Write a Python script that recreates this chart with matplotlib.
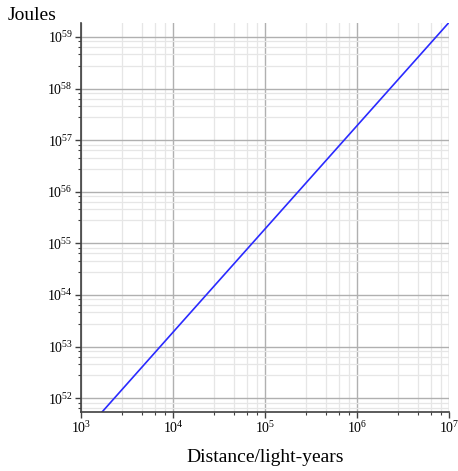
import matplotlib
matplotlib.use('Agg')
import matplotlib.pyplot as plt
from matplotlib.ticker import LogLocator, NullFormatter

# Energy versus distance
distance = [1.66e3, 1e4, 1e5, 1e6, 1e7]
energy = [5.2e51, 1.9e53, 1.9e55, 1.9e57, 1.9e59]

plt.rcParams['font.family'] = ['Liberation Serif', 'DejaVu Serif']
plt.rcParams['mathtext.fontset'] = 'stix'

fig = plt.figure(figsize=(4.58, 4.71), dpi=100)
ax = fig.add_axes([0.177, 0.125, 0.803, 0.826])

ax.plot(distance, energy, color='#2a2aff', lw=1.2)
ax.set_xscale('log')
ax.set_yscale('log')
ax.set_xlim(1e3, 1e7)
ax.set_ylim(10**51.73, 10**59.27)

# minor ticks split each decade linearly into five parts
subs = [2.8, 4.6, 6.4, 8.2]
ax.xaxis.set_major_locator(LogLocator(base=10, numticks=10))
ax.xaxis.set_minor_locator(LogLocator(base=10, subs=subs, numticks=20))
ax.yaxis.set_major_locator(LogLocator(base=10, numticks=20))
ax.yaxis.set_minor_locator(LogLocator(base=10, subs=subs, numticks=40))
ax.xaxis.set_minor_formatter(NullFormatter())
ax.yaxis.set_minor_formatter(NullFormatter())

ax.grid(which='major', color='#b0b0b0', lw=1.0)
ax.grid(which='minor', color='#e6e6e6', lw=0.9)
ax.set_axisbelow(True)

for s in ['top', 'right']:
    ax.spines[s].set_visible(False)
for s in ['left', 'bottom']:
    ax.spines[s].set_color('#404040')
    ax.spines[s].set_linewidth(1.2)

ax.tick_params(which='major', length=4, width=1, color='#404040', labelsize=10, pad=2)
ax.tick_params(which='minor', length=2.5, width=0.8, color='#404040')

fig.text(8 / 458, 1 - 16 / 471, 'Joules', fontsize=14, ha='left', va='center')
fig.text(265 / 458, 1 - 458 / 471, 'Distance/light-years', fontsize=14, ha='center', va='center')

fig.savefig('out.png', dpi=100)
